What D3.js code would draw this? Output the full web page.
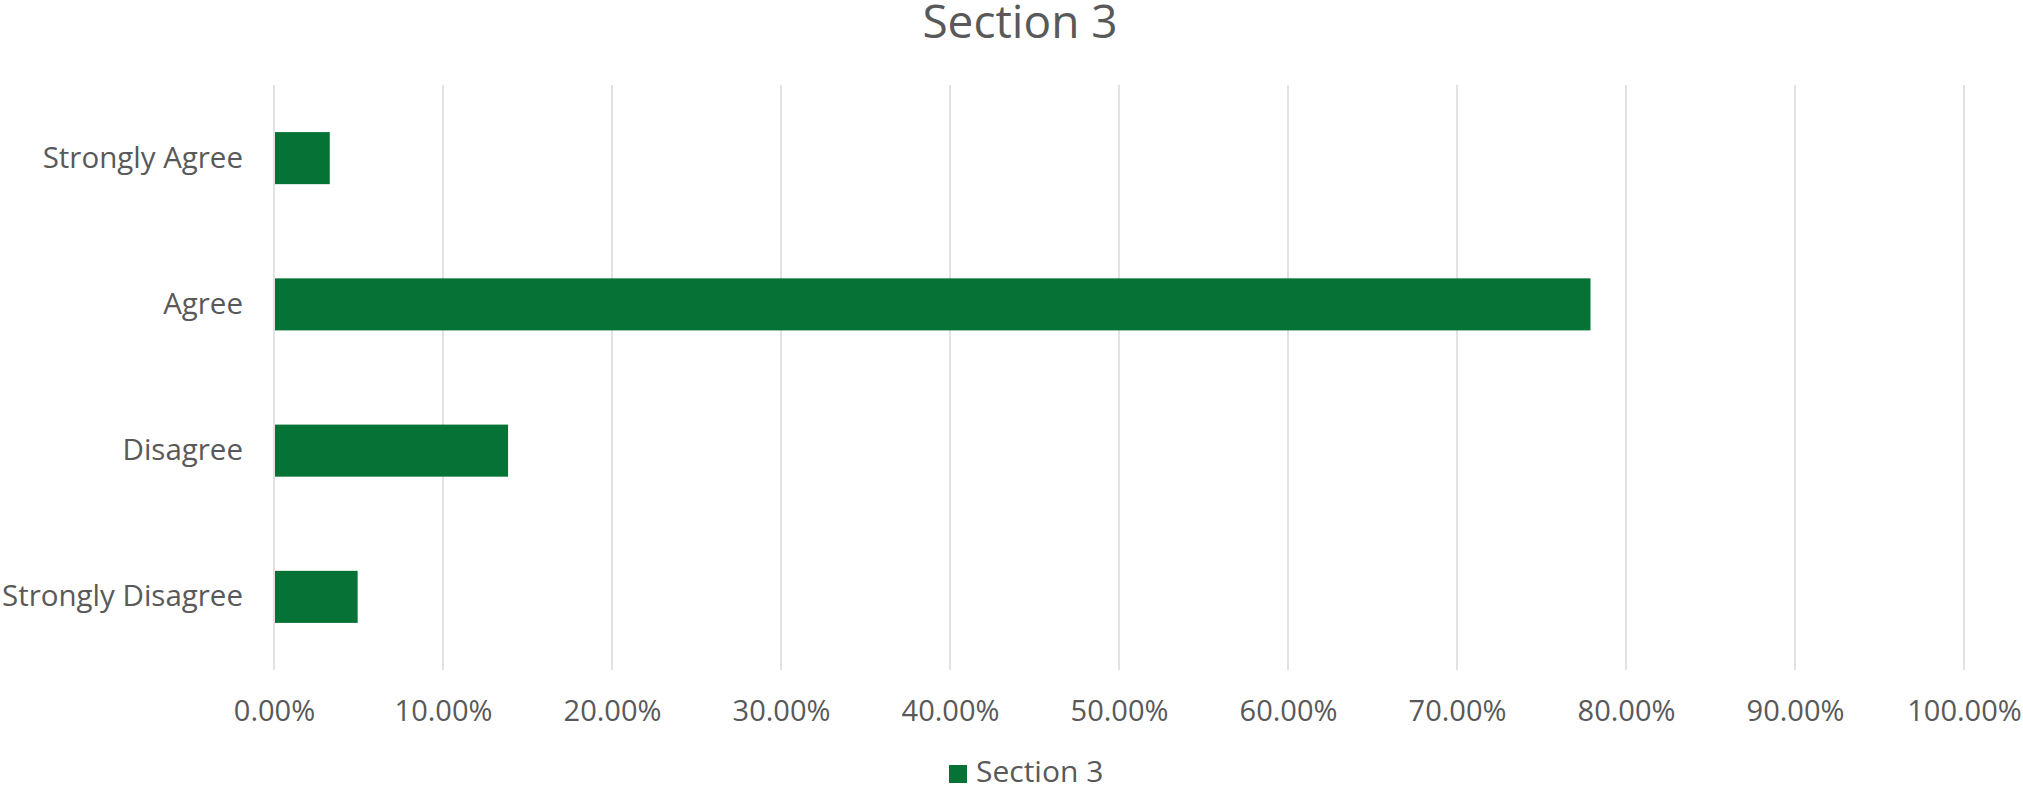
<!DOCTYPE html>
<html>
<head>
<meta charset="utf-8">
<script src="https://cdn.jsdelivr.net/npm/d3@7"></script>
<style>
  html, body { margin: 0; padding: 0; background: #fff; }
  svg text { font-family: "Open Sans", sans-serif; fill: #595959; }
</style>
</head>
<body>
<div id="chart"></div>
<script>
// data
const categories = ["Strongly Agree", "Agree", "Disagree", "Strongly Disagree"];
const values = [0.033, 0.779, 0.1385, 0.0495];
const tickValues = [0, 0.1, 0.2, 0.3, 0.4, 0.5, 0.6, 0.7, 0.8, 0.9, 1.0];
const seriesName = "Section 3";

const W = 2023, H = 789;
const margin = { top: 85, right: 59, bottom: 119, left: 274 };
const innerW = W - margin.left - margin.right;
const innerH = H - margin.top - margin.bottom;
const green = "#067336";

const svg = d3.select("#chart").append("svg")
  .attr("width", W)
  .attr("height", H);

const g = svg.append("g")
  .attr("transform", `translate(${margin.left},${margin.top})`);

const x = d3.scaleLinear().domain([0, 1]).range([0, innerW]);

const y = d3.scaleBand()
  .domain(categories)
  .range([0, innerH])
  .paddingInner(0.644)
  .paddingOuter(0.322);

// vertical grid
g.append("g")
  .selectAll("line")
  .data(tickValues)
  .enter().append("line")
  .attr("x1", d => x(d)).attr("x2", d => x(d))
  .attr("y1", 0).attr("y2", innerH)
  .attr("stroke", "#d9d9d9")
  .attr("stroke-width", 1.5);

// x labels
g.append("g")
  .attr("transform", `translate(0,${innerH})`)
  .call(d3.axisBottom(x).tickValues(tickValues).tickSize(0).tickPadding(0)
    .tickFormat(d => (d * 100).toFixed(2) + "%"))
  .call(a => a.select(".domain").remove())
  .selectAll("text")
  .attr("y", 51)
  .attr("dy", 0)
  .style("font-size", "29px")
  .style("font-family", "'Open Sans', sans-serif")
  .style("fill", "#595959");

// y labels
g.append("g")
  .call(d3.axisLeft(y).tickSize(0).tickPadding(31))
  .call(a => a.select(".domain").remove())
  .selectAll("text")
  .style("font-size", "29.5px")
  .style("font-family", "'Open Sans', sans-serif")
  .style("fill", "#595959");

// bars
g.selectAll(".bar")
  .data(categories)
  .enter().append("rect")
  .attr("class", "bar")
  .attr("x", x(0) + 1)
  .attr("y", d => y(d))
  .attr("width", (d, i) => x(values[i]) - x(0) - 1)
  .attr("height", y.bandwidth())
  .attr("fill", green);

// title
svg.append("text")
  .attr("x", 1020)
  .attr("y", 38)
  .attr("text-anchor", "middle")
  .style("font-size", "46px")
  .text(seriesName);

// legend
const lg = svg.append("g").attr("transform", "translate(949,765)");
lg.append("rect").attr("width", 18).attr("height", 18).attr("fill", green);
lg.append("text")
  .attr("x", 27)
  .attr("y", 17)
  .style("font-size", "30px")
  .text(seriesName);
</script>
</body>
</html>
